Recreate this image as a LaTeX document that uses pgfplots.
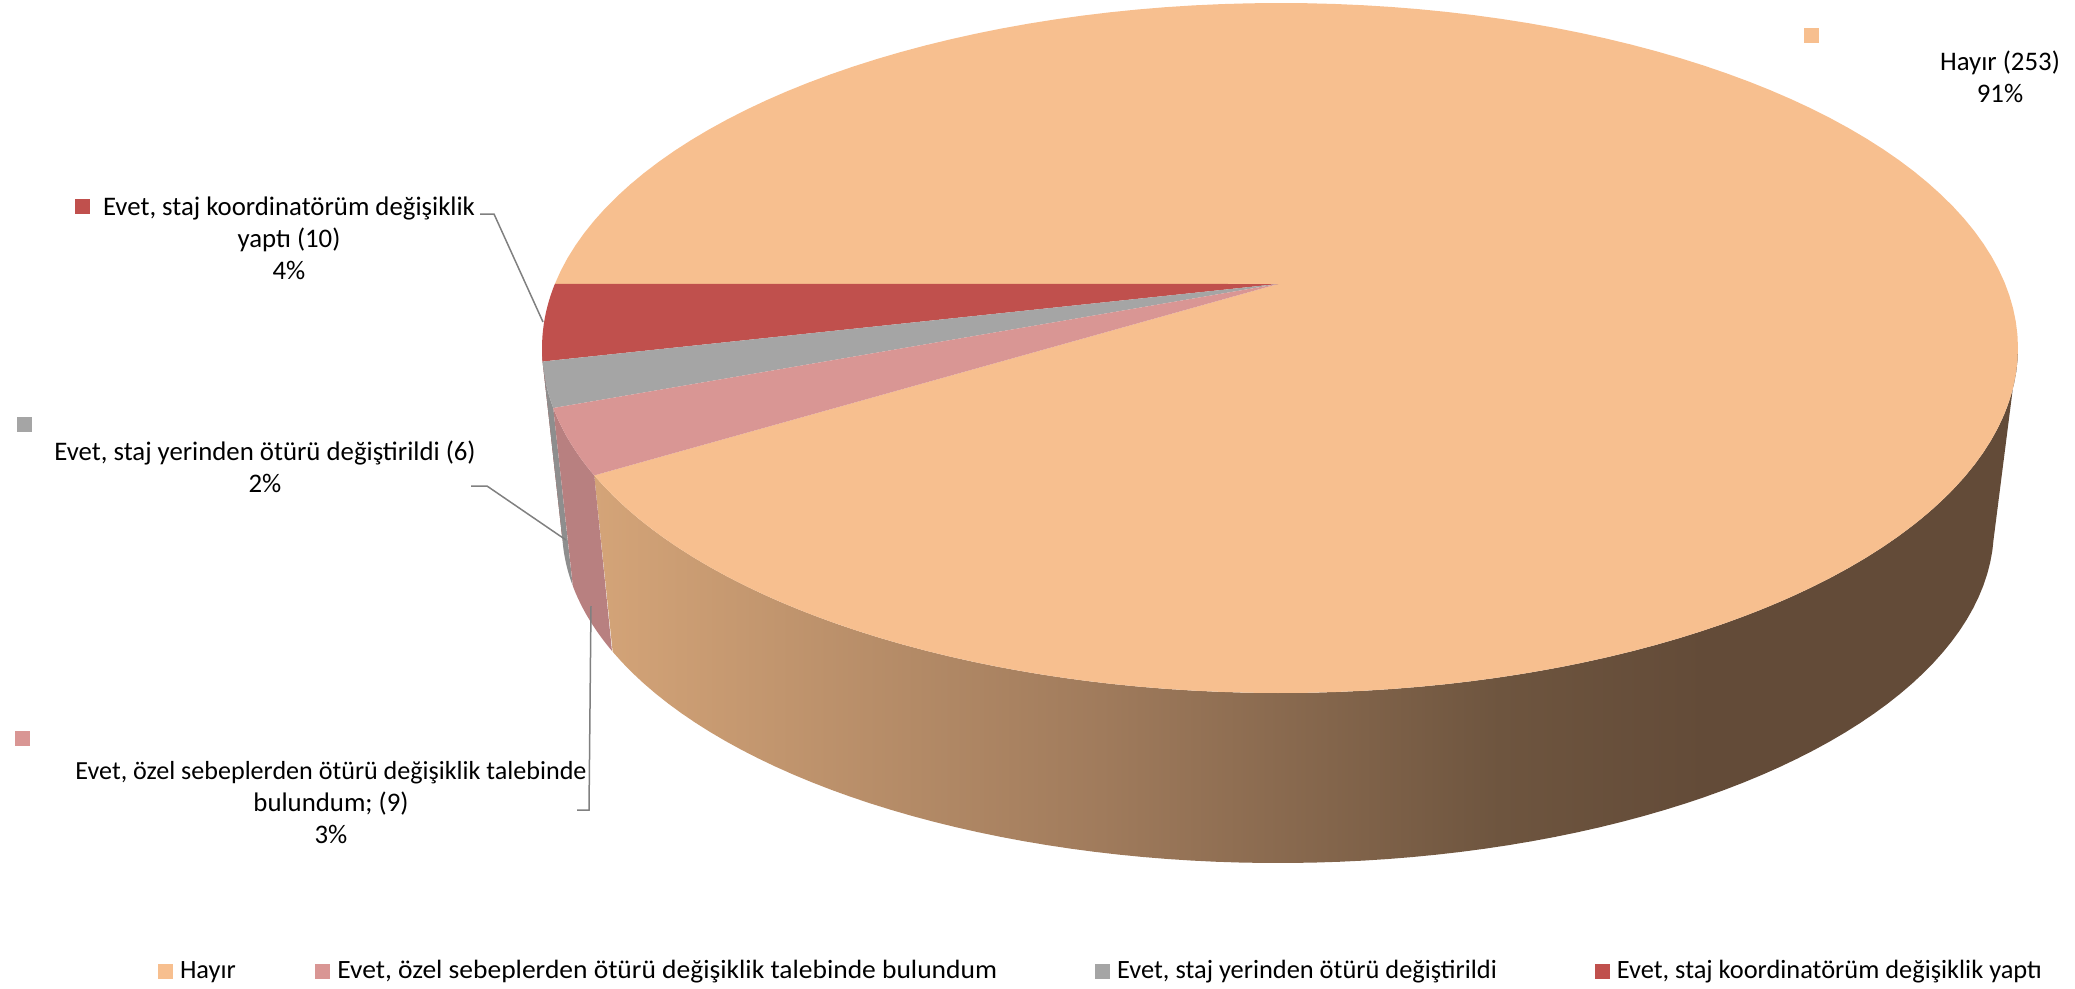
\documentclass[border=0pt]{standalone}
\usepackage{fontspec}
\setmainfont{Carlito}
\usepackage{graphicx}
\usepackage{pgfplots}
\usepackage{pgfplotstable}
\pgfplotsset{compat=1.18}

\definecolor{cH}{HTML}{F7BF8F}
\definecolor{cP}{HTML}{D99694}
\definecolor{cG}{HTML}{A5A5A5}
\definecolor{cR}{HTML}{C0504D}
\definecolor{wP}{HTML}{B88080}
\definecolor{wG}{HTML}{8E8E8E}
\definecolor{wR}{HTML}{9A3E3B}
\definecolor{hs1}{HTML}{D4A478}
\definecolor{hs2}{HTML}{A07B5C}
\definecolor{hs3}{HTML}{6E553F}
\definecolor{hs4}{HTML}{634B38}
\definecolor{lead}{HTML}{808080}
\pgfdeclarehorizontalshading{hayirside}{100bp}{color(0bp)=(hs1); color(25bp)=(hs1); color(42.8bp)=(hs2); color(56.8bp)=(hs3); color(64bp)=(hs4); color(100bp)=(hs4)}

% counts per answer
\pgfplotstableread{
idx count
0 253
1 9
2 6
3 10
}\piedata
\pgfplotstablegetelem{0}{count}\of\piedata \let\nH\pgfplotsretval
\pgfplotstablegetelem{1}{count}\of\piedata \let\nP\pgfplotsretval
\pgfplotstablegetelem{2}{count}\of\piedata \let\nG\pgfplotsretval
\pgfplotstablegetelem{3}{count}\of\piedata \let\nR\pgfplotsretval
\pgfmathsetmacro{\tot}{\nH+\nP+\nG+\nR}
\pgfmathsetmacro{\aR}{169.3}
\pgfmathsetmacro{\aG}{\aR+360*\nR/\tot}
\pgfmathsetmacro{\aP}{\aG+360*\nG/\tot}
\pgfmathsetmacro{\aH}{\aP+360*\nP/\tot}
\pgfmathsetmacro{\aE}{\aR+360}

% projected geometry of the 3D pie (image pixels)
\def\cxT{1280}\def\cyT{348}\def\aT{738}\def\bT{345}
\def\cxB{1278}\def\cyB{528}\def\aB{716}\def\bB{335}
\def\apx{1278}\def\apy{284}

\newcommand{\wall}[3]{%
  \addplot[#3, draw=none, forget plot, domain=0:2, samples=161, variable=\s]
   ({\s<=1 ? \cxT+\aT*cos(#1+\s*(#2-#1)) : \cxB+\aB*cos(#2-(\s-1)*(#2-#1))},
    {\s<=1 ? \cyT-\bT*sin(#1+\s*(#2-#1)) : \cyB-\bB*sin(#2-(\s-1)*(#2-#1))});}
\newcommand{\slice}[3]{%
  \addplot[fill=#3, draw=none, forget plot, domain=#1:#2, samples=150]
   ({\cxT+\aT*cos(x)}, {\cyT-\bT*sin(x)}) -- (axis cs:\apx,\apy) -- cycle;}

\newcommand{\lab}{\fontsize{26.8bp}{32bp}\selectfont}
\newcommand{\labp}{\fontsize{26.1bp}{32bp}\selectfont}
\newcommand{\leg}{\fontsize{26.4bp}{32bp}\selectfont}

\begin{document}
\begin{tikzpicture}
\begin{axis}[
  hide axis, scale only axis,
  width=2075bp, height=988bp,
  xmin=0, xmax=2075, ymin=0, ymax=988,
  y dir=reverse, clip=false,
  legend image code/.code={\fill[#1] (0bp,-6.5bp) rectangle (15bp,8.5bp);},
  legend style={draw=none, fill=none, inner sep=0pt, outer sep=0pt,
    at={(axis cs:158,972)}, anchor=west,
    font=\leg,
    nodes={inner sep=0pt, text height=18bp, text depth=5bp},
    /tikz/every odd column/.append style={column sep=7bp},
    /tikz/every even column/.append style={column sep=79.5bp}},
  legend columns=4,
  legend cell align=left,
]
% side walls
\wall{\aH}{360}{shade, shading=hayirside}
\wall{180}{\aG}{fill=wR}
\wall{\aG}{\aP}{fill=wG}
\wall{\aP}{\aH}{fill=wP}
% top faces
\slice{\aH}{\aE}{cH}
\slice{\aR}{\aG}{cR}
\slice{\aG}{\aP}{cG}
\slice{\aP}{\aH}{cP}

% legend
\addlegendimage{fill=cH, draw=none}\addlegendentry{Hayır}
\addlegendimage{fill=cP, draw=none}\addlegendentry{\scalebox{1.042}[1]{Evet, özel sebeplerden ötürü değişiklik talebinde bulundum}\hspace*{18.5bp}}
\addlegendimage{fill=cG, draw=none}\addlegendentry{Evet, staj yerinden ötürü değiştirildi\hspace*{18.5bp}}
\addlegendimage{fill=cR, draw=none}\addlegendentry{Evet, staj koordinatörüm değişiklik yaptı}

% leader lines
\draw[lead, line width=1.5bp] (axis cs:480,214) -- (axis cs:494,214) -- (axis cs:543,322);
\draw[lead, line width=1.5bp] (axis cs:471,486) -- (axis cs:487,486) -- (axis cs:566,540);
\draw[lead, line width=1.5bp] (axis cs:577,810) -- (axis cs:589,810) -- (axis cs:591,606);

% data labels
\node[anchor=south west, inner sep=0pt] at (axis cs:1804,43) {\textcolor{cH}{\rule{15bp}{15bp}}};
\node[anchor=base, font=\lab, inner sep=0pt] at (axis cs:2000,71) {Hayır (253)};
\node[anchor=base, font=\lab, inner sep=0pt] at (axis cs:2000,103) {91\%};

\node[anchor=south west, inner sep=0pt] at (axis cs:75,214) {\textcolor{cR}{\rule{15bp}{15bp}}};
\node[anchor=base, font=\lab, inner sep=0pt] at (axis cs:289,215) {Evet, staj koordinatörüm değişiklik};
\node[anchor=base, font=\lab, inner sep=0pt] at (axis cs:289,247) {yaptı (10)};
\node[anchor=base, font=\lab, inner sep=0pt] at (axis cs:289,279) {4\%};

\node[anchor=south west, inner sep=0pt] at (axis cs:17,432) {\textcolor{cG}{\rule{15bp}{15bp}}};
\node[anchor=base, font=\lab, inner sep=0pt] at (axis cs:265,460) {Evet, staj yerinden ötürü değiştirildi (6)};
\node[anchor=base, font=\lab, inner sep=0pt] at (axis cs:265,492) {2\%};

\node[anchor=south west, inner sep=0pt] at (axis cs:15,746) {\textcolor{cP}{\rule{15bp}{15bp}}};
\node[anchor=base, font=\labp, inner sep=0pt] at (axis cs:331,779) {Evet, özel sebeplerden ötürü değişiklik talebinde};
\node[anchor=base, font=\lab, inner sep=0pt] at (axis cs:331,811) {bulundum; (9)};
\node[anchor=base, font=\lab, inner sep=0pt] at (axis cs:331,843) {3\%};

\path (axis cs:0,0) rectangle (axis cs:2075,988);
\end{axis}
\end{tikzpicture}
\end{document}
